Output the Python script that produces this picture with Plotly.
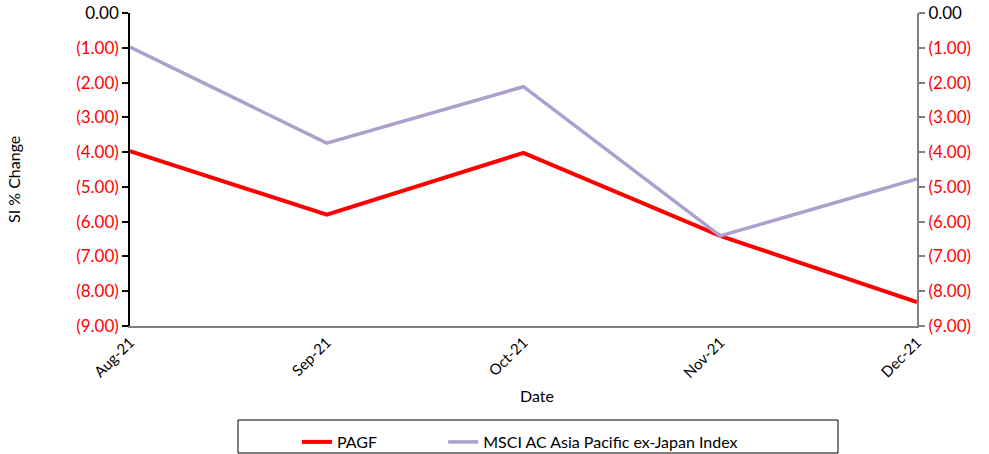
import plotly.graph_objects as go

dates = ["Aug-21", "Sep-21", "Oct-21", "Nov-21", "Dec-21"]
pagf = [-3.97, -5.80, -4.02, -6.41, -8.31]
msci = [-0.98, -3.74, -2.12, -6.41, -4.77]
tick_vals = [0, -1, -2, -3, -4, -5, -6, -7, -8, -9]

def fmt(v):
    if v == 0:
        return "0.00"
    return "<span style='color:#FF0000'>(%.2f)</span>" % abs(v)

tick_text = [fmt(v) for v in tick_vals]
FONT = "Lato, 'Open Sans', sans-serif"
NB = "\u00a0"

fig = go.Figure()
fig.add_trace(go.Scatter(x=list(range(len(dates))), y=pagf, mode="lines",
                         name="PAGF" + NB * 15,
                         line=dict(color="#FF0000", width=4)))
fig.add_trace(go.Scatter(x=list(range(len(dates))), y=msci, mode="lines",
                         name="MSCI AC Asia Pacific ex-Japan Index",
                         line=dict(color="#ADA0CD", width=3.5)))
fig.add_trace(go.Scatter(x=list(range(len(dates))), y=pagf, mode="lines", yaxis="y2",
                         showlegend=False, hoverinfo="skip",
                         line=dict(width=0, color="rgba(0,0,0,0)")))

W, H = 989, 454
# target screen coords of plot area
SL, SR, ST, SB = 130, 917, 13, 326
L, T = SL, ST
R, B = W - SR, H - SB
pw, ph = SR - SL, SB - ST

def px(x):
    return (x - SL) / pw

def py(y):
    return (SB - y) / ph

fig.update_layout(
    width=W, height=H,
    margin=dict(l=L, r=R, t=T, b=B, autoexpand=False),
    paper_bgcolor="white", plot_bgcolor="white",
    font=dict(family=FONT, size=15, color="black"),
    xaxis=dict(
        tickmode="array", tickvals=list(range(len(dates))), ticktext=dates,
        range=[0, 4], tickangle=-45, showgrid=False, zeroline=False,
        showline=True, linecolor="#808080", linewidth=1.5, ticks="",
        automargin=False, tickfont=dict(size=15), ticklabeloverflow="allow",
    ),
    yaxis=dict(
        range=[-9, 0], tickmode="array", tickvals=tick_vals, ticktext=tick_text,
        showgrid=False, zeroline=False, showline=True, linecolor="black", linewidth=1.5,
        ticks="outside", ticklen=6, tickcolor="black", tickwidth=1.5,
        automargin=False, tickfont=dict(size=17), ticklabeloverflow="allow",
    ),
    yaxis2=dict(
        range=[-9, 0], tickmode="array", tickvals=tick_vals, ticktext=tick_text,
        overlaying="y", side="right", showgrid=False, zeroline=False,
        showline=True, linecolor="#808080", linewidth=2,
        ticks="outside", ticklen=6, tickcolor="#808080", tickwidth=1.5,
        automargin=False, tickfont=dict(size=17), ticklabeloverflow="allow",
    ),
    legend=dict(
        orientation="h", x=px(297), xanchor="left", y=py(425), yanchor="top",
        borderwidth=0, font=dict(size=16), bgcolor="rgba(0,0,0,0)",
    ),
    shapes=[dict(type="rect", xref="paper", yref="paper",
                 x0=px(238), x1=px(838), y0=py(420), y1=py(453),
                 line=dict(color="black", width=1), layer="below")],
    annotations=[
        dict(text="Date", xref="paper", yref="paper", x=px(537), y=py(395),
             xanchor="center", yanchor="middle", showarrow=False, font=dict(size=16)),
        dict(text="SI % Change", xref="paper", yref="paper", x=px(14), y=py(180),
             xanchor="center", yanchor="middle", showarrow=False, textangle=-90,
             font=dict(size=16)),
    ],
    showlegend=True,
)

fig.write_html("out.html",
               config={"displayModeBar": False},
               post_script="document.body.style.margin='0';document.body.style.padding='0';")
